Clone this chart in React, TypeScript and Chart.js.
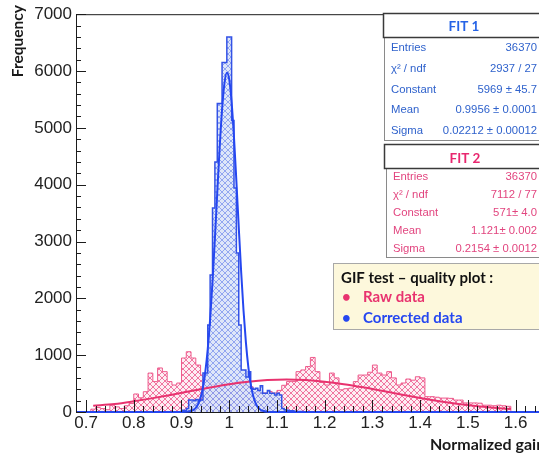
import React, { useEffect, useRef } from 'react';
import { Chart, registerables } from 'chart.js';

Chart.register(...registerables);

// ---------- axes ----------
const xRange = [0.679, 1.649];
const yRange = [0, 7000];
const xTickValues = [0.7, 0.8, 0.9, 1.0, 1.1, 1.2, 1.3, 1.4, 1.5, 1.6];
const xTickLabels = ['0.7', '0.8', '0.9', '1', '1.1', '1.2', '1.3', '1.4', '1.5', '1.6'];
const yTickValues = [0, 1000, 2000, 3000, 4000, 5000, 6000, 7000];
const yTickLabels = ['0', '1000', '2000', '3000', '4000', '5000', '6000', '7000'];
const xTitle = 'Normalized gain';
const yTitle = 'Frequency';

// ---------- raw data histogram (bin low edge 0.71, width 0.01) ----------
const rawBinLow = 0.71;
const rawBinWidth = 0.01;
const rawCounts = [
  50, 80, 60, 40, 120, 90, 60, 110, 150, 317,
  250, 357, 685, 535, 775, 710, 535, 475, 510, 950,
  1060, 950, 826, 650, 560, 480, 500, 520, 480, 500,
  520, 540, 470, 445, 400, 334, 334, 360, 334, 380,
  470, 535, 535, 710, 740, 800, 960, 710, 520, 475,
  685, 600, 390, 410, 420, 535, 650, 650, 700, 826,
  685, 650, 710, 600, 475, 510, 580, 560, 620, 600,
  270, 270, 260, 245, 245, 240, 210, 210, 160, 160,
  160, 155, 120, 120, 110, 120, 110, 100,
];

// ---------- corrected data histogram (bin low edge 0.900, width 0.005) ----------
const corrBinLow = 0.9;
const corrBinWidth = 0.005;
const corrCounts = [
  30, 20, 60, 210, 210, 200, 220, 200, 210, 686,
  686, 1530, 2410, 3590, 4400, 5430, 5430, 6150, 6150, 6600,
  6600, 5130, 3940, 2800, 1530, 740, 740, 615, 710, 420,
  400, 420, 380, 460, 330, 330, 380, 330, 330, 300,
  330, 300, 60, 40, 30, 20, 20, 15, 10, 10, 10,
];

// ---------- fit curves ----------
const rawFitX = [0.715, 0.76, 0.80, 0.84, 0.88, 0.92, 0.96, 1.00, 1.04, 1.08, 1.12, 1.16, 1.20, 1.24, 1.28, 1.32, 1.36, 1.40, 1.44, 1.48, 1.52, 1.56, 1.59];
const rawFitY = [110, 140, 188, 244, 305, 370, 432, 488, 532, 561, 571, 562, 534, 490, 435, 373, 308, 247, 191, 142, 103, 72, 53];

const corrFitX = [0.679, 0.90, 0.915, 0.92, 0.925, 0.93, 0.935, 0.94, 0.945, 0.95, 0.955, 0.96, 0.965, 0.97, 0.975, 0.98, 0.985, 0.99, 0.995, 1.0, 1.005, 1.01, 1.015, 1.02, 1.025, 1.03, 1.035, 1.04, 1.045, 1.05, 1.055, 1.06, 1.065, 1.07, 1.08, 1.10, 1.649];
const corrFitY = [0, 0, 8, 17, 37, 73, 140, 253, 436, 713, 1108, 1635, 2293, 3055, 3869, 4655, 5321, 5781, 5968, 5852, 5454, 4829, 4063, 3248, 2468, 1782, 1222, 796, 493, 290, 162, 86, 44, 21, 4, 0, 0];

// ---------- statistics boxes & legend text ----------
const fit1Title = 'FIT 1';
const fit1Labels = ['Entries', 'χ² / ndf', 'Constant', 'Mean', 'Sigma'];
const fit1Values = ['36370', '2937 / 27', '5969 ± 45.7', '0.9956 ± 0.0001', '0.02212 ± 0.00012'];
const fit2Title = 'FIT 2';
const fit2Labels = ['Entries', 'χ² / ndf', 'Constant', 'Mean', 'Sigma'];
const fit2Values = ['36370', '7112 / 77', '571± 4.0', '1.121± 0.002', '0.2154 ± 0.0012'];
const legendTitle = 'GIF test – quality plot :';
const legendItems = ['Raw data', 'Corrected data'];

const RED_LINE = '#ee5a8c';
const RED_FIT = '#e8336f';
const BLUE_LINE = '#3352e6';
const BLUE_FIT = '#2547f0';
const FIT1_TEXT = '#2f62cc';
const FIT1_HEAD = '#2563e6';
const FIT2_TEXT = '#e2457f';
const FIT2_HEAD = '#e8276f';

function histPoints(low: number, width: number, counts: number[]) {
  const pts: { x: number; y: number }[] = [{ x: low, y: 0 }];
  counts.forEach((c, i) => pts.push({ x: +(low + i * width).toFixed(4), y: c }));
  pts.push({ x: +(low + counts.length * width).toFixed(4), y: 0 });
  return pts;
}

function makeHatch(line: string, bg: string | null) {
  const s = 6;
  const c = document.createElement('canvas');
  c.width = s;
  c.height = s;
  const g = c.getContext('2d')!;
  if (bg) {
    g.fillStyle = bg;
    g.fillRect(0, 0, s, s);
  }
  g.strokeStyle = line;
  g.lineWidth = 0.9;
  g.beginPath();
  g.moveTo(-1, -1);
  g.lineTo(s + 1, s + 1);
  g.moveTo(s + 1, -1);
  g.lineTo(-1, s + 1);
  g.stroke();
  return g.createPattern(c, 'repeat')!;
}

function drawStatBox(
  ctx: CanvasRenderingContext2D,
  o: {
    hx: number; hTop: number; hBottom: number; bx: number; bBottom: number;
    title: string; titleX: number; titleY: number; headColor: string; textColor: string;
    labels: string[]; values: string[]; labelX: number; valueX: number; y0: number; dy: number;
  }
) {
  const W = 200;
  ctx.fillStyle = '#ffffff';
  ctx.fillRect(o.bx, o.hBottom, W, o.bBottom - o.hBottom);
  ctx.strokeStyle = '#8a8a8a';
  ctx.lineWidth = 1;
  ctx.strokeRect(o.bx + 0.5, o.hBottom + 0.5, W, o.bBottom - o.hBottom);
  ctx.fillStyle = '#ffffff';
  ctx.fillRect(o.hx, o.hTop, W, o.hBottom - o.hTop);
  ctx.strokeStyle = '#3a3a3a';
  ctx.lineWidth = 1.5;
  ctx.strokeRect(o.hx + 0.5, o.hTop + 0.5, W, o.hBottom - o.hTop);

  ctx.fillStyle = o.headColor;
  ctx.font = 'bold 13.5px Lato';
  ctx.textAlign = 'center';
  ctx.textBaseline = 'alphabetic';
  ctx.fillText(o.title, o.titleX, o.titleY);

  ctx.font = '11.3px "Liberation Sans"';
  ctx.fillStyle = o.textColor;
  o.labels.forEach((l, i) => {
    const yy = o.y0 + i * o.dy;
    ctx.textAlign = 'left';
    ctx.fillText(l, o.labelX, yy);
    ctx.textAlign = 'right';
    ctx.fillText(o.values[i], o.valueX, yy);
  });
}

const decorPlugin = {
  id: 'decor',
  afterDatasetsDraw(chart: any) {
    const { ctx, chartArea: a, scales } = chart;
    const xs = scales.x;
    const ys = scales.y;
    ctx.save();
    ctx.strokeStyle = '#1c1c1c';
    ctx.lineWidth = 1;
    ctx.beginPath();
    for (let i = -1; i <= 48; i++) {
      const v = 0.7 + 0.02 * i;
      const px = Math.round(xs.getPixelForValue(v)) + 0.5;
      if (px < a.left || px > a.right) continue;
      const len = i % 5 === 0 ? 12 : 6;
      ctx.moveTo(px, a.bottom);
      ctx.lineTo(px, a.bottom - len);
    }
    for (let i = 0; i <= 35; i++) {
      const py = Math.round(ys.getPixelForValue(200 * i)) + 0.5;
      const len = i % 5 === 0 ? 10 : 5;
      ctx.moveTo(a.left, py);
      ctx.lineTo(a.left + len, py);
    }
    ctx.moveTo(a.left, a.top + 0.5);
    ctx.lineTo(a.right, a.top + 0.5);
    ctx.stroke();
    ctx.restore();
  },
  afterDraw(chart: any) {
    const { ctx } = chart;
    ctx.save();

    // axis titles
    ctx.fillStyle = '#1a1a1a';
    ctx.font = 'bold 16px Lato';
    ctx.textAlign = 'left';
    ctx.textBaseline = 'alphabetic';
    ctx.fillText(xTitle, 430, 450);

    ctx.save();
    ctx.font = 'bold 15.5px Lato';
    ctx.translate(23, 5);
    ctx.rotate(-Math.PI / 2);
    ctx.textAlign = 'right';
    ctx.fillText(yTitle, 0, 0);
    ctx.restore();

    // stat boxes
    drawStatBox(ctx, {
      hx: 383, hTop: 13, hBottom: 37, bx: 384, bBottom: 140,
      title: fit1Title, titleX: 464, titleY: 31, headColor: FIT1_HEAD, textColor: FIT1_TEXT,
      labels: fit1Labels, values: fit1Values, labelX: 391, valueX: 537, y0: 51, dy: 20.8,
    });
    drawStatBox(ctx, {
      hx: 384, hTop: 144, hBottom: 168, bx: 386, bBottom: 257,
      title: fit2Title, titleX: 465, titleY: 163, headColor: FIT2_HEAD, textColor: FIT2_TEXT,
      labels: fit2Labels, values: fit2Values, labelX: 393, valueX: 537, y0: 180, dy: 18,
    });

    // legend box
    ctx.fillStyle = '#fdf8dc';
    ctx.fillRect(333, 263, 220, 66);
    ctx.strokeStyle = '#a8a8a8';
    ctx.lineWidth = 1;
    ctx.strokeRect(333.5, 263.5, 220, 66);
    ctx.textAlign = 'left';
    ctx.font = 'bold 15px Lato';
    ctx.fillStyle = '#111111';
    ctx.fillText(legendTitle, 341, 283);
    const colors = [RED_FIT, BLUE_FIT];
    legendItems.forEach((t, i) => {
      const yy = 302 + i * 20.5;
      ctx.fillStyle = colors[i];
      ctx.font = 'bold 15px Lato';
      ctx.fillText('•', 342, yy);
      ctx.fillText(t, 363, yy);
    });
    ctx.restore();
  },
};

export default function App() {
  const ref = useRef<HTMLCanvasElement | null>(null);

  useEffect(() => {
    if (!ref.current) return;
    const redHatch = makeHatch('rgba(236, 80, 134, 0.85)', 'rgba(252, 226, 235, 0.6)');
    const blueHatch = makeHatch('rgba(80, 110, 230, 0.6)', 'rgba(214, 225, 248, 0.8)');

    const chart = new Chart(ref.current, {
      type: 'line',
      data: {
        datasets: [
          {
            label: 'Corrected fit',
            data: corrFitX.map((x, i) => ({ x, y: corrFitY[i] })),
            borderColor: BLUE_FIT,
            borderWidth: 2,
            pointRadius: 0,
            fill: false,
            cubicInterpolationMode: 'monotone',
            clip: { left: 0, top: 0, right: 0, bottom: 3 } as any,
          },
          {
            label: 'Raw fit',
            data: rawFitX.map((x, i) => ({ x, y: rawFitY[i] })),
            borderColor: RED_FIT,
            borderWidth: 2,
            pointRadius: 0,
            fill: false,
            cubicInterpolationMode: 'monotone',
          },
          {
            label: 'Corrected data',
            data: histPoints(corrBinLow, corrBinWidth, corrCounts),
            borderColor: BLUE_LINE,
            borderWidth: 1.5,
            backgroundColor: blueHatch as any,
            pointRadius: 0,
            stepped: true,
            fill: 'origin',
          },
          {
            label: 'Raw data',
            data: histPoints(rawBinLow, rawBinWidth, rawCounts),
            borderColor: RED_LINE,
            borderWidth: 1,
            backgroundColor: redHatch as any,
            pointRadius: 0,
            stepped: true,
            fill: 'origin',
          },
        ],
      },
      options: {
        responsive: false,
        animation: false,
        devicePixelRatio: 1,
        layout: { padding: { top: 14, left: 0, right: 0, bottom: 0 } },
        plugins: { legend: { display: false }, tooltip: { enabled: false } },
        scales: {
          x: {
            type: 'linear',
            min: xRange[0],
            max: xRange[1],
            grid: { display: false, drawTicks: false },
            border: { display: true, color: '#1c1c1c', width: 1 },
            ticks: {
              autoSkip: false,
              maxRotation: 0,
              padding: 1,
              color: '#222222',
              font: { family: 'Liberation Sans', size: 17 },
              callback: (v: any) => {
                const idx = xTickValues.findIndex((t) => Math.abs(t - Number(v)) < 1e-6);
                return idx >= 0 ? xTickLabels[idx] : '';
              },
            },
            afterBuildTicks: (s: any) => {
              s.ticks = xTickValues.map((value) => ({ value }));
            },
            afterFit: (s: any) => {
              s.height = 43;
            },
          },
          y: {
            type: 'linear',
            min: yRange[0],
            max: yRange[1],
            grid: { display: false, drawTicks: false },
            border: { display: true, color: '#1c1c1c', width: 1 },
            ticks: {
              padding: 4,
              color: '#222222',
              font: { family: 'Liberation Sans', size: 17 },
              callback: (v: any) => {
                const idx = yTickValues.indexOf(Number(v));
                return idx >= 0 ? yTickLabels[idx] : '';
              },
            },
            afterBuildTicks: (s: any) => {
              s.ticks = yTickValues.map((value) => ({ value }));
            },
            afterFit: (s: any) => {
              s.width = 76;
            },
          },
        },
      } as any,
      plugins: [decorPlugin],
    });
    return () => chart.destroy();
  }, []);

  return (
    <div style={{ position: 'fixed', left: 0, top: 0, width: 539, height: 455, background: '#ffffff', overflow: 'hidden' }}>
      <canvas ref={ref} width={539} height={455} style={{ display: 'block', width: 539, height: 455 }} />
    </div>
  );
}
